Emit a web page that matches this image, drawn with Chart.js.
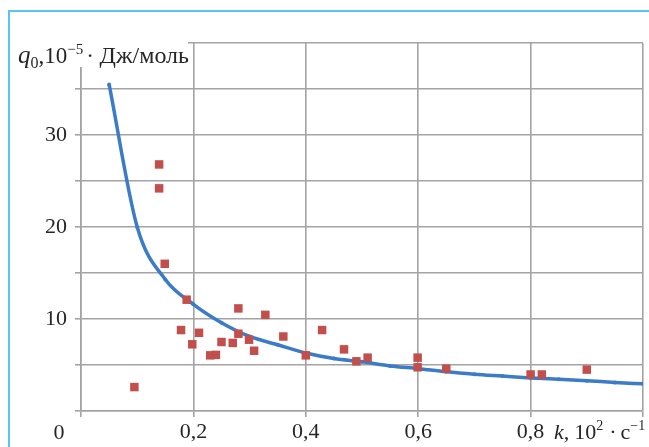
<!DOCTYPE html>
<html>
<head>
<meta charset="utf-8">
<script src="https://cdn.jsdelivr.net/npm/chart.js@4"></script>
<style>
  html, body { margin: 0; padding: 0; background: #fff; }
  #wrap { width: 649px; height: 447px; position: relative; }
</style>
</head>
<body>
<div id="wrap"><canvas id="myChart" width="649" height="447"></canvas></div>
<script>
// experimental points (k, q0)
const pointsK = [0.095, 0.139, 0.139, 0.149, 0.178, 0.188, 0.198, 0.21, 0.23, 0.24, 0.25, 0.27, 0.28, 0.28, 0.299, 0.308, 0.328, 0.36, 0.4, 0.429, 0.468, 0.49, 0.51, 0.599, 0.599, 0.65, 0.8, 0.82, 0.9];
const pointsQ = [2.6, 26.8, 24.2, 16.0, 8.8, 12.1, 7.25, 8.5, 6.05, 6.1, 7.5, 7.4, 11.15, 8.4, 7.75, 6.55, 10.45, 8.1, 6.05, 8.8, 6.7, 5.4, 5.8, 5.8, 4.75, 4.6, 3.97, 3.97, 4.5];

// fitted curve
const curveK = [0.05, 0.1, 0.15, 0.2, 0.25, 0.3, 0.35, 0.4, 0.45, 0.5, 0.55, 0.6, 0.65, 0.7, 0.75, 0.8, 0.85, 0.9, 0.95, 1.0];
const curveQ = [35.5, 20.0, 14.3, 11.6, 9.6, 8.1, 7.2, 6.3, 5.7, 5.35, 4.9, 4.6, 4.26, 4.0, 3.8, 3.6, 3.45, 3.3, 3.1, 2.95];

const xTicks = [0.2, 0.4, 0.6, 0.8];
const yTicks = [10, 20, 30];

const gridColor = '#a3a3a3';
const textColor = '#262626';
const serif = '"Liberation Serif", "DejaVu Serif", serif';

const scatterData = pointsK.map((k, i) => ({ x: k, y: pointsQ[i] }));
const curveData = curveK.map((k, i) => ({ x: k, y: curveQ[i] }));

// draws a run of text pieces one after the other
function drawPieces(ctx, x, y, pieces) {
    pieces.forEach(p => {
        ctx.font = p.font;
        ctx.fillText(p.text, x, y + (p.dy || 0));
        x += ctx.measureText(p.text).width + (p.gap || 0);
    });
}

const decorations = {
    id: 'decorations',
    beforeDraw(chart) {
        const ctx = chart.ctx;
        ctx.save();
        ctx.fillStyle = '#fff';
        ctx.fillRect(0, 0, chart.width, chart.height);
        // blue frame
        ctx.strokeStyle = '#58c6ee';
        ctx.lineWidth = 2;
        ctx.beginPath();
        ctx.moveTo(9, chart.height);
        ctx.lineTo(9, 11);
        ctx.lineTo(chart.width, 11);
        ctx.stroke();
        ctx.restore();
    },
    afterDraw(chart) {
        const ctx = chart.ctx;
        ctx.save();
        // title box covering the grid
        ctx.fillStyle = '#fff';
        ctx.fillRect(14, 36, 174, 31);
        ctx.fillStyle = textColor;
        ctx.textBaseline = 'alphabetic';
        ctx.textAlign = 'left';
        drawPieces(ctx, 18, 63, [
            { text: 'q', font: 'italic 25px ' + serif },
            { text: '0', font: '16px ' + serif, dy: 5 },
            { text: ',10', font: '23px ' + serif },
            { text: '−5', font: '15px ' + serif, dy: -9, gap: 3 },
            { text: '· ', font: '23px ' + serif },
            { text: 'Дж/моль', font: '24px ' + serif }
        ]);
        // origin label
        ctx.font = '22px ' + serif;
        ctx.textAlign = 'center';
        ctx.fillText('0', 59, 439);
        // x axis title
        ctx.textAlign = 'left';
        drawPieces(ctx, 554, 439, [
            { text: 'k,', font: 'italic 22px ' + serif, gap: 5 },
            { text: '10', font: '22px ' + serif },
            { text: '2', font: '14px ' + serif, dy: -9, gap: 6 },
            { text: '·', font: '22px ' + serif, gap: 4 },
            { text: 'с', font: '22px ' + serif },
            { text: '−1', font: '14px ' + serif, dy: -9 }
        ]);
        ctx.restore();
    }
};

new Chart(document.getElementById('myChart'), {
    type: 'scatter',
    data: {
        datasets: [{
            label: 'points',
            data: scatterData,
            pointStyle: 'rect',
            pointRadius: 6,
            pointBorderWidth: 0,
            backgroundColor: '#c24f4c',
            borderColor: '#c24f4c'
        }, {
            label: 'curve',
            data: curveData,
            showLine: true,
            cubicInterpolationMode: 'monotone',
            borderColor: '#3b7bc8',
            backgroundColor: '#3b7bc8',
            borderWidth: 3.5,
            pointRadius: 2,
            pointBorderWidth: 0
        }]
    },
    options: {
        responsive: false,
        animation: false,
        events: [],
        layout: { padding: { top: 43, right: 5, left: 0, bottom: 0 } },
        plugins: { legend: { display: false }, tooltip: { enabled: false } },
        scales: {
            x: {
                type: 'linear',
                min: 0,
                max: 1,
                afterFit(scale) { scale.height = 36; },
                afterBuildTicks(scale) {
                    scale.ticks = [0, ...xTicks, 1].map(v => ({ value: v }));
                },
                ticks: {
                    padding: 2,
                    color: textColor,
                    font: { family: serif, size: 22 },
                    maxRotation: 0,
                    autoSkip: false,
                    callback: v => xTicks.includes(Math.round(v * 10) / 10) ? v.toFixed(1).replace('.', ',') : ''
                },
                grid: { color: gridColor, lineWidth: 1.6, tickLength: 6 },
                border: { color: gridColor, width: 1.6 }
            },
            y: {
                min: 0,
                max: 40,
                afterFit(scale) { scale.width = 81; },
                ticks: {
                    stepSize: 5,
                    padding: 8,
                    color: textColor,
                    font: { family: serif, size: 22 },
                    callback: v => yTicks.includes(v) ? String(v) : ''
                },
                grid: { color: gridColor, lineWidth: 1.6, tickLength: 6 },
                border: { color: gridColor, width: 1.6 }
            }
        }
    },
    plugins: [decorations]
});
</script>
</body>
</html>
